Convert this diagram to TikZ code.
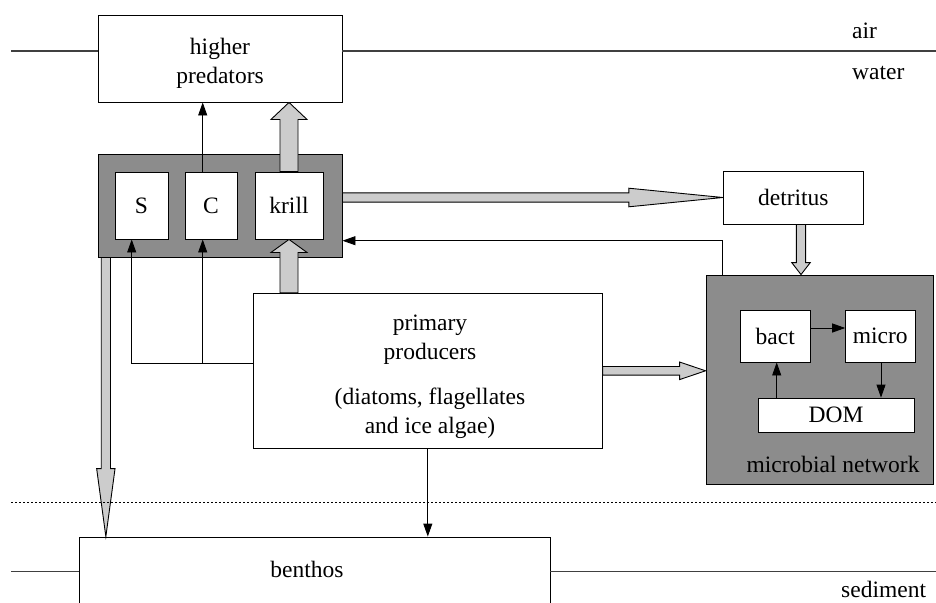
\documentclass[tikz,border=0pt]{standalone}
\usepackage{fontspec}
\setmainfont{Liberation Serif}
\usetikzlibrary{calc,arrows.meta}
\definecolor{boxgray}{HTML}{8C8C8C}
\definecolor{fatgray}{HTML}{CCCCCC}
% #1 start, #2 end, #3 ux, #4 uy, #5 shaft half width, #6 head half width, #7 head length
\newcommand\fatarr[7]{%
  \draw[fatarrow]
    ($(#1)+({-(#4)*(#5)},{(#3)*(#5)})$) --
    ($(#2)+({-(#3)*(#7)-(#4)*(#5)},{-(#4)*(#7)+(#3)*(#5)})$) --
    ($(#2)+({-(#3)*(#7)-(#4)*(#6)},{-(#4)*(#7)+(#3)*(#6)})$) --
    (#2) --
    ($(#2)+({-(#3)*(#7)+(#4)*(#6)},{-(#4)*(#7)-(#3)*(#6)})$) --
    ($(#2)+({-(#3)*(#7)+(#4)*(#5)},{-(#4)*(#7)-(#3)*(#5)})$) --
    ($(#1)+({(#4)*(#5)},{-(#3)*(#5)})$) -- cycle;}
\begin{document}
\begin{tikzpicture}[x=1pt,y=-1pt,
  font=\fontsize{23.5}{28.2}\selectfont,
  box/.style={draw=black, line width=0.9pt, fill=white, inner sep=0pt, align=center},
  graybox/.style={draw=black, line width=0.9pt, fill=boxgray, inner sep=0pt},
  arr/.style={draw=black, line width=0.9pt, -{Triangle[length=13pt,width=9pt]}},
  fatarrow/.style={draw=black, line width=0.9pt, fill=fatgray, line join=miter},
  bound/.style={draw=black!75, line width=1.3pt},
  dotline/.style={draw=black, line width=0.9pt, dash pattern=on 2pt off 2pt},
  txt/.style={inner sep=0pt, anchor=base}]
\useasboundingbox (0,0) rectangle (936,602);
\clip (0,0) rectangle (936,602);

% boundary coordinates
\coordinate (wl) at (11,51);
\coordinate (wr) at (936,51);
\coordinate (sl) at (11,571.7);
\coordinate (sr) at (936,571.7);
\coordinate (dl) at (11,502);
\coordinate (dr) at (936,502);

% boxes
\node[box, minimum width=244pt, minimum height=87pt] (pred) at (220,58.5) {};
\node[txt] (pred1) at (220,55) {higher};
\node[txt] (pred2) at (220,83) {predators};

\node[graybox, minimum width=244pt, minimum height=103pt] (cons) at (220,205.5) {};
\node[box, minimum width=53pt, minimum height=67pt] (S) at (141.5,205.5) {S};
\node[box, minimum width=52pt, minimum height=67pt] (C) at (211,205.5) {C};
\node[box, minimum width=68pt, minimum height=67pt] (krill) at (289,205.5) {krill};

\node[box, minimum width=140pt, minimum height=53pt] (det) at (793.3,197.5) {detritus};

\node[graybox, minimum width=227pt, minimum height=209pt] (mn) at (819.5,379.5) {};
\node[txt] (mnlabel) at (833,472) {microbial network};
\node[box, minimum width=69.3pt, minimum height=52pt] (bact) at (775.3,336) {bact};
\node[box, minimum width=69.3pt, minimum height=52pt] (micro) at (880.3,336) {micro};
\node[box, minimum width=156pt, minimum height=34.3pt] (DOM) at (836,415.2) {DOM};

\node[box, minimum width=349pt, minimum height=155pt] (pp) at (427.8,370.8) {};
\node[txt] (pp1) at (430,330) {primary};
\node[txt] (pp2) at (430,359) {producers};
\node[txt] (pp3) at (430,404) {(diatoms, flagellates};
\node[txt] (pp4) at (430,433) {and ice algae)};

\node[box, minimum width=471pt, minimum height=69.4pt] (ben) at (314.5,571.7) {};
\node[txt] (bentxt) at (307,577) {benthos};

\node[txt, anchor=base west] (air) at (852,38) {air};
\node[txt, anchor=base west] (water) at (852,79) {water};
\node[txt, anchor=base west] (sediment) at (841,597) {sediment};

% boundary lines
\draw[bound] (wl) -- (wl -| pred.west);
\draw[bound] (pred.east |- wr) -- (wr);
\draw[bound] (sl) -- (sl -| ben.west);
\draw[bound] (ben.east |- sr) -- (sr);

% thin arrows
\coordinate (cx) at ([xshift=-8.3pt]C.north);
\coordinate (cxs) at ([xshift=-8.3pt]C.south);
\coordinate (sxs) at ([xshift=-9.8pt]S.south);
\coordinate (ppl) at ([yshift=7.1pt]pp.west);
\draw[arr] (cx) -- (cx |- pred.south);
\draw[arr] (ppl) -| (sxs);
\draw[arr] (cxs |- ppl) -- (cxs);
\draw[arr] (pp.south) -- (pp.south |- ben.north);
\coordinate (mnx) at ([xshift=17.3pt]mn.north west);
\draw[arr] (mnx) |- ([yshift=-35.2pt]cons.east);
\draw[arr] ([yshift=8pt]bact.east) -- ([yshift=8pt]micro.west);
\draw[arr] ([xshift=0.7pt]micro.south) -- ([xshift=0.7pt]micro.south |- DOM.north);
\draw[arr] ([xshift=1.4pt]bact.south |- DOM.north) -- ([xshift=1.4pt]bact.south);

% fat arrows
\fatarr{krill.north}{krill.north |- pred.south}{0}{-1}{9}{18}{17}
\fatarr{krill.south |- pp.north}{krill.south}{0}{-1}{9}{18}{13}
\fatarr{cons.east |- det.west}{det.west}{1}{0}{4.6}{9.3}{94}
\coordinate (dx) at ([xshift=7.7pt]det.south);
\fatarr{dx}{dx |- mn.north}{0}{1}{4.6}{9.3}{12}
\fatarr{pp.east}{pp.east -| mn.west}{1}{0}{4.3}{8.8}{26}
\coordinate (cb) at ([xshift=8.3pt]cons.south west);
\fatarr{cb}{cb |- ben.north}{0}{1}{4.6}{9.2}{68}

% water/sediment transition
\draw[dotline] (dl) -- (dr);
\end{tikzpicture}
\end{document}
